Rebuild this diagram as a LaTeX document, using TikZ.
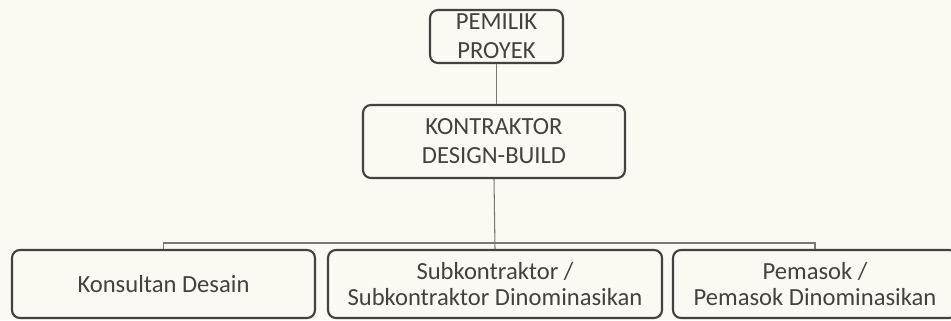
\documentclass[tikz,border=0pt]{standalone}
\usepackage{fontspec}
\setmainfont{Carlito}
\usepackage{tikz}
\usetikzlibrary{positioning}
\definecolor{paper}{RGB}{250,250,243}
\definecolor{ink}{RGB}{66,66,62}
\definecolor{wire}{RGB}{120,120,112}
\tikzset{
  orgbox/.style={draw=ink, line width=1.2pt, rounded corners=4.5pt, fill=paper,
    align=center, text=ink, inner sep=0pt},
  upper/.style={orgbox, font=\fontsize{14}{16.5}\selectfont},   % owner + DB contractor
  lower/.style={orgbox, font=\fontsize{14}{14.8}\selectfont},   % third tier
  link/.style={draw=wire, line width=0.6pt}
}
\begin{document}
\begin{tikzpicture}
  \fill[paper] (0,0) rectangle (19.02,6.4);
  \useasboundingbox (0,0) rectangle (19.02,6.4);
  % top tiers
  \node[upper, minimum width=2.66cm, minimum height=1.06cm] (owner) at (9.93,5.67) {PEMILIK\\PROYEK};
  \node[upper, minimum width=5.24cm, minimum height=1.46cm] (dbk) at (9.88,3.57) {KONTRAKTOR\\DESIGN-BUILD};
  % third tier
  \node[lower, minimum width=6.06cm, minimum height=1.36cm] (kons) at (3.27,0.72) {Konsultan Desain};
  \node[lower, minimum width=6.68cm, minimum height=1.36cm] (sub) at (9.90,0.72) {Subkontraktor /\\Subkontraktor Dinominasikan};
  \node[lower, minimum width=5.68cm, minimum height=1.36cm] (pem) at (16.30,0.72) {Pemasok /\\Pemasok Dinominasikan};
  % connectors
  \coordinate (bus) at (9.90,1.54);
  \draw[link] (owner.south) -- (owner.south |- dbk.north);
  \draw[link] (dbk.south) -- (sub.north);
  \draw[link] (kons.north) |- (bus) -| (pem.north);
\end{tikzpicture}
\end{document}
